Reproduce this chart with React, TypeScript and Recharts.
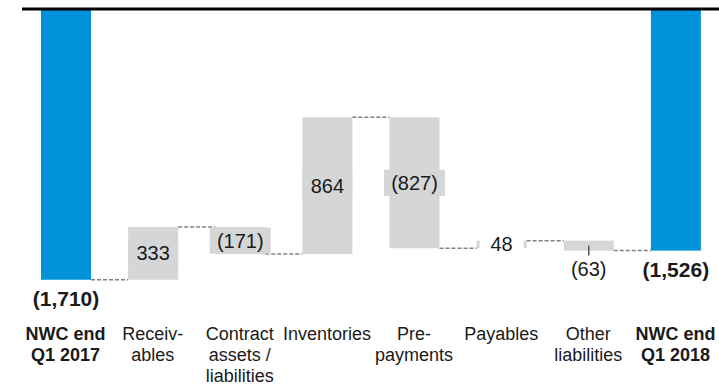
import React from 'react';
import { ComposedChart, Bar, XAxis, YAxis, ReferenceLine } from 'recharts';

const categories = [
  'NWC end\nQ1 2017',
  'Receiv-\nables',
  'Contract\nassets /\nliabilities',
  'Inventories',
  'Pre-\npayments',
  'Payables',
  'Other\nliabilities',
  'NWC end\nQ1 2018',
];
const changes = [-1710, 333, -171, 864, -827, 48, -63, -1526];
const isTotal = [true, false, false, false, false, false, false, true];
const valueLabels = ['(1,710)', '333', '(171)', '864', '(827)', '48', '(63)', '(1,526)'];

const BLUE = '#0091d9';
const GRAY = '#d5d6d8';
const FONT = '"Liberation Sans", Arial, sans-serif';

const WIDTH = 719;
const HEIGHT = 388;
const MARGIN = { top: 9, right: 0, left: 22, bottom: 0 };
const BAND = (WIDTH - MARGIN.left - MARGIN.right) / categories.length;

// build floating ranges for the waterfall
let running = 0;
const rows = categories.map((name, i) => {
  let low: number, high: number, end: number;
  if (isTotal[i]) {
    end = changes[i];
    low = Math.min(0, end);
    high = Math.max(0, end);
  } else {
    const start = running;
    end = start + changes[i];
    low = Math.min(start, end);
    high = Math.max(start, end);
  }
  running = end;
  return {
    name,
    range: [low, high],
    endAtTop: end === high,
    total: isTotal[i],
    label: valueLabels[i],
    up: changes[i] > 0,
    last: i === categories.length - 1,
  };
});

function WaterfallBar(props: any) {
  const { x, y, width, height, payload } = props;
  const top = Math.min(y, y + height);
  const h = Math.abs(height);
  const bottom = top + h;
  const cx = x + width / 2;
  const cy = top + h / 2;
  const levelY = payload.endAtTop ? top : bottom;
  const textW = payload.label.length * 11 + 6;

  let label = null;
  if (payload.total) {
    label = (
      <text x={cx} y={bottom + 19} textAnchor="middle" dominantBaseline="central"
        fontFamily={FONT} fontSize={21} fontWeight="bold" fill="#1a1a1a">
        {payload.label}
      </text>
    );
  } else if (h < 20 && payload.up) {
    label = (
      <g>
        <rect x={x + 3} y={top - 2} width={width - 6} height={h + 4} fill="#fff" />
        <text x={cx} y={cy} textAnchor="middle" dominantBaseline="central"
          fontFamily={FONT} fontSize={20} fill="#1a1a1a">
          {payload.label}
        </text>
      </g>
    );
  } else if (h < 20) {
    label = (
      <g>
        <line x1={cx} x2={cx} y1={cy} y2={bottom + 5} stroke="#555" strokeWidth={1.5} />
        <text x={cx} y={bottom + 18} textAnchor="middle" dominantBaseline="central"
          fontFamily={FONT} fontSize={20} fill="#1a1a1a">
          {payload.label}
        </text>
      </g>
    );
  } else {
    const bw = Math.max(width, textW);
    label = (
      <g>
        <rect x={cx - bw / 2} y={cy - 13} width={bw} height={26} fill={GRAY} />
        <text x={cx} y={cy} textAnchor="middle" dominantBaseline="central"
          fontFamily={FONT} fontSize={20} fill="#1a1a1a">
          {payload.label}
        </text>
      </g>
    );
  }

  return (
    <g>
      <rect x={x} y={top} width={width} height={h} fill={payload.total ? BLUE : GRAY} />
      {!payload.last && (
        <line x1={x + width} x2={x + BAND} y1={levelY} y2={levelY}
          stroke="#808080" strokeWidth={1.5} strokeDasharray="4 2" />
      )}
      {label}
    </g>
  );
}

function CategoryTick(props: any) {
  const { x, y, payload } = props;
  const lines = String(payload.value).split('\n');
  const bold = rows.find((r) => r.name === payload.value)?.total;
  return (
    <text x={x} y={y} textAnchor="middle" fontFamily={FONT} fontSize={18}
      fontWeight={bold ? 'bold' : 'normal'} fill="#1a1a1a">
      {lines.map((line, i) => (
        <tspan key={i} x={x} dy={i === 0 ? 46 : 21}>{line}</tspan>
      ))}
    </text>
  );
}

export default function App() {
  return (
    <div>
      <style>{'body { margin: 0; }'}</style>
      <ComposedChart width={WIDTH} height={HEIGHT} data={rows} margin={MARGIN}>
        <XAxis dataKey="name" axisLine={false} tickLine={false} tickSize={0} tickMargin={0}
          height={94} interval={0} tick={<CategoryTick />} />
        <YAxis hide domain={[-1800, 0]} />
        <Bar dataKey="range" barSize={50} shape={<WaterfallBar />} isAnimationActive={false} />
        <ReferenceLine y={0} stroke="#000" strokeWidth={3} />
      </ComposedChart>
    </div>
  );
}
